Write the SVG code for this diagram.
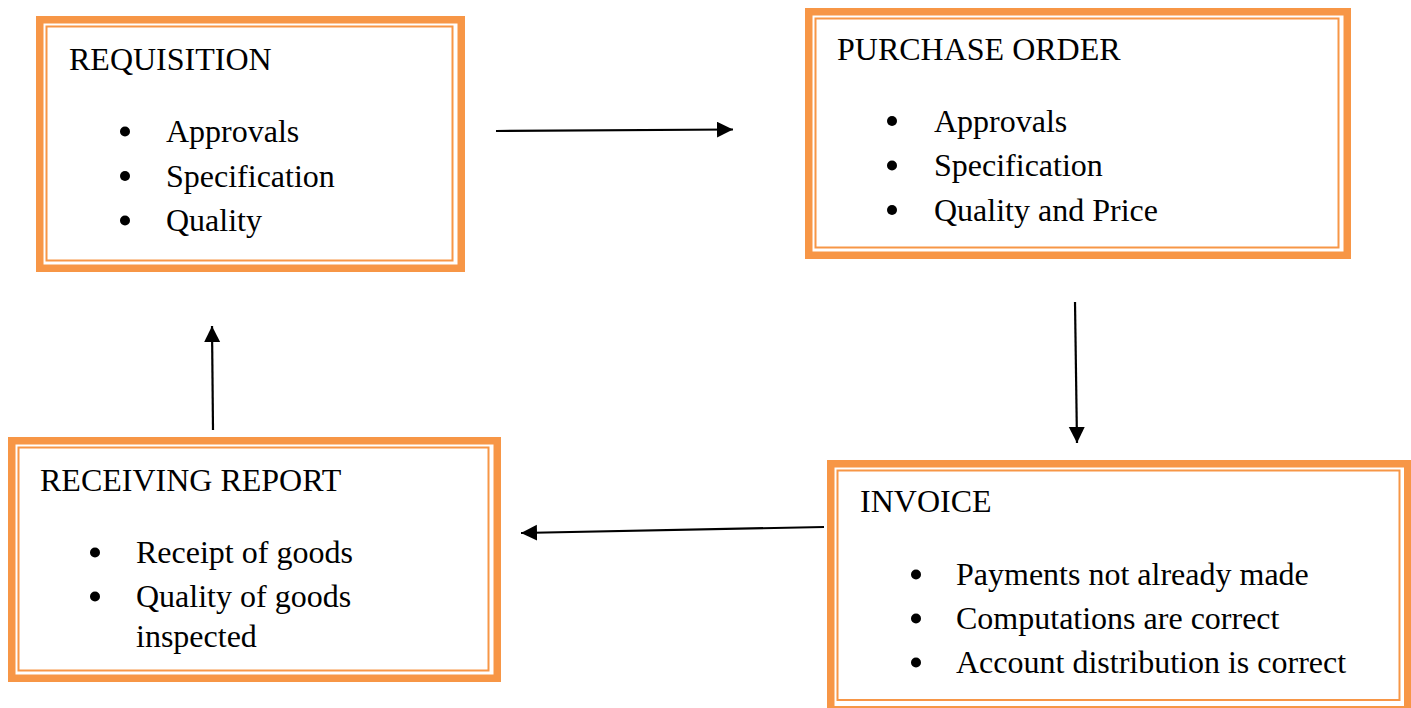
<svg xmlns="http://www.w3.org/2000/svg" width="1411" height="708" viewBox="0 0 1411 708">
<style>
.outer{fill:#fff;stroke:#F79646;stroke-width:7.5}
.inner{fill:none;stroke:#F79646;stroke-width:2}
text{font-family:"Liberation Serif","Times New Roman",serif;font-size:32px;fill:#000}
.conn{stroke:#000;stroke-width:2.2;fill:none;marker-end:url(#ah)}
.dot{fill:#000}
</style>
<defs>
<marker id="ah" markerUnits="userSpaceOnUse" markerWidth="18" markerHeight="18" refX="16" refY="8" orient="auto">
<path d="M0,0 L16,8 L0,16 z" fill="#000"/>
</marker>
</defs>
<rect width="1411" height="708" fill="#fff"/>
<g id="requisition">
<rect class="outer" x="39.75" y="19.75" width="421.5" height="248.5"/>
<rect class="inner" x="46.5" y="26.5" width="406" height="234"/>
<text x="69" y="70">REQUISITION</text>
<circle class="dot" cx="125" cy="131.5" r="5"/>
<circle class="dot" cx="125" cy="176" r="5"/>
<circle class="dot" cx="125" cy="220.5" r="5"/>
<text x="166" y="142">Approvals</text>
<text x="166" y="186.5">Specification</text>
<text x="166" y="231">Quality</text>
</g>
<g id="purchase-order">
<rect class="outer" x="808.75" y="11.75" width="538.5" height="243.5"/>
<rect class="inner" x="815.5" y="18.5" width="523" height="229"/>
<text x="837" y="60">PURCHASE ORDER</text>
<circle class="dot" cx="892" cy="121" r="5"/>
<circle class="dot" cx="892" cy="165.5" r="5"/>
<circle class="dot" cx="892" cy="210" r="5"/>
<text x="934" y="131.5">Approvals</text>
<text x="934" y="176">Specification</text>
<text x="934" y="220.5">Quality and Price</text>
</g>
<g id="receiving-report">
<rect class="outer" x="11.75" y="440.75" width="485.5" height="237.5"/>
<rect class="inner" x="18.5" y="447.5" width="470" height="223"/>
<text x="40" y="491">RECEIVING REPORT</text>
<circle class="dot" cx="95" cy="552.5" r="5"/>
<circle class="dot" cx="95" cy="596.5" r="5"/>
<text x="136" y="563">Receipt of goods</text>
<text x="136" y="607">Quality of goods</text>
<text x="136" y="647">inspected</text>
</g>
<g id="invoice">
<rect class="outer" x="830.75" y="463.75" width="577" height="246"/>
<rect class="inner" x="837.5" y="470.5" width="562" height="229.5"/>
<text x="860" y="512">INVOICE</text>
<circle class="dot" cx="916" cy="574.5" r="5"/>
<circle class="dot" cx="916" cy="618.5" r="5"/>
<circle class="dot" cx="916" cy="662.5" r="5"/>
<text x="956" y="584.5">Payments not already made</text>
<text x="956" y="628.5">Computations are correct</text>
<text x="956" y="672.5">Account distribution is correct</text>
</g>
<g id="connectors">
<line class="conn" x1="496" y1="131" x2="733" y2="129.5"/>
<line class="conn" x1="1075" y1="302" x2="1077" y2="443"/>
<line class="conn" x1="824" y1="527" x2="521" y2="533"/>
<line class="conn" x1="213" y1="430" x2="212" y2="326"/>
</g>
</svg>
